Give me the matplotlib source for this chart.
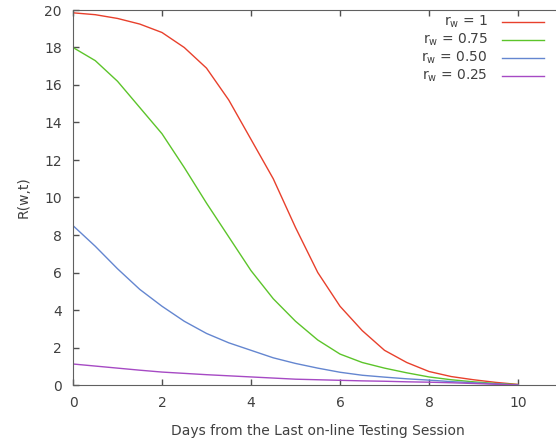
import numpy as np
import matplotlib
matplotlib.use("Agg")
import matplotlib.pyplot as plt
from matplotlib.lines import Line2D

# values
days = [0, 0.5, 1, 1.5, 2, 2.5, 3, 3.5, 4, 4.5, 5, 5.5, 6, 6.5, 7, 7.5, 8, 8.5, 9, 9.5, 10]
r_100 = [19.85, 19.75, 19.55, 19.25, 18.8, 18.0, 16.9, 15.2, 13.1, 11.0, 8.4, 6.0, 4.2,
         2.9, 1.85, 1.2, 0.72, 0.45, 0.28, 0.14, 0.03]
r_075 = [18.0, 17.3, 16.2, 14.8, 13.4, 11.6, 9.7, 7.9, 6.1, 4.6, 3.4, 2.4, 1.65,
         1.2, 0.9, 0.65, 0.43, 0.28, 0.17, 0.08, 0.02]
r_050 = [8.5, 7.4, 6.2, 5.1, 4.2, 3.4, 2.75, 2.25, 1.85, 1.45, 1.15, 0.9, 0.68,
         0.52, 0.42, 0.33, 0.26, 0.18, 0.12, 0.06, 0.0]
r_025 = [1.12, 1.01, 0.9, 0.79, 0.69, 0.62, 0.55, 0.49, 0.43, 0.37, 0.31, 0.28, 0.25,
         0.22, 0.2, 0.17, 0.15, 0.12, 0.08, 0.04, 0.0]

labels = [r"r$_\mathregular{w}$ = 1", r"r$_\mathregular{w}$ = 0.75",
          r"r$_\mathregular{w}$ = 0.50", r"r$_\mathregular{w}$ = 0.25"]
colors = ["#e8402c", "#5cc42a", "#6486d0", "#a64ac4"]

txt = "#404040"
fig = plt.figure(figsize=(5.56, 4.40), dpi=100)
ax = fig.add_axes([73/556, 1-385/440, (11*44.5)/556, 375/440])

for ys, c in zip([r_100, r_075, r_050, r_025], colors):
    ax.plot(days, ys, color=c, lw=1.0)

ax.set_xlim(0, 11)
ax.set_ylim(0, 20)
ax.set_xticks([0, 2, 4, 6, 8, 10])
ax.set_yticks(range(0, 21, 2))
ax.tick_params(direction="in", length=4, width=1, colors="#505050",
               labelcolor=txt, labelsize=10, top=True, pad=8)
for s in ax.spines.values():
    s.set_color("#606060")
ax.spines["right"].set_visible(False)

ax.set_xlabel("Days from the Last on-line Testing Session", color=txt, fontsize=10, labelpad=10)
ax.set_ylabel("R(w,t)", color=txt, fontsize=10, labelpad=10)

# legend drawn by hand: text right aligned, line after it
for i, (lab, c) in enumerate(zip(labels, colors)):
    y = 1 - (22 + 18*i)/440
    fig.text(488/556, y, lab, ha="right", va="center", color=txt, fontsize=10)
    fig.add_artist(Line2D([502/556, 544/556], [y, y], color=c, lw=1.0))

fig.savefig("out.png", dpi=100)
